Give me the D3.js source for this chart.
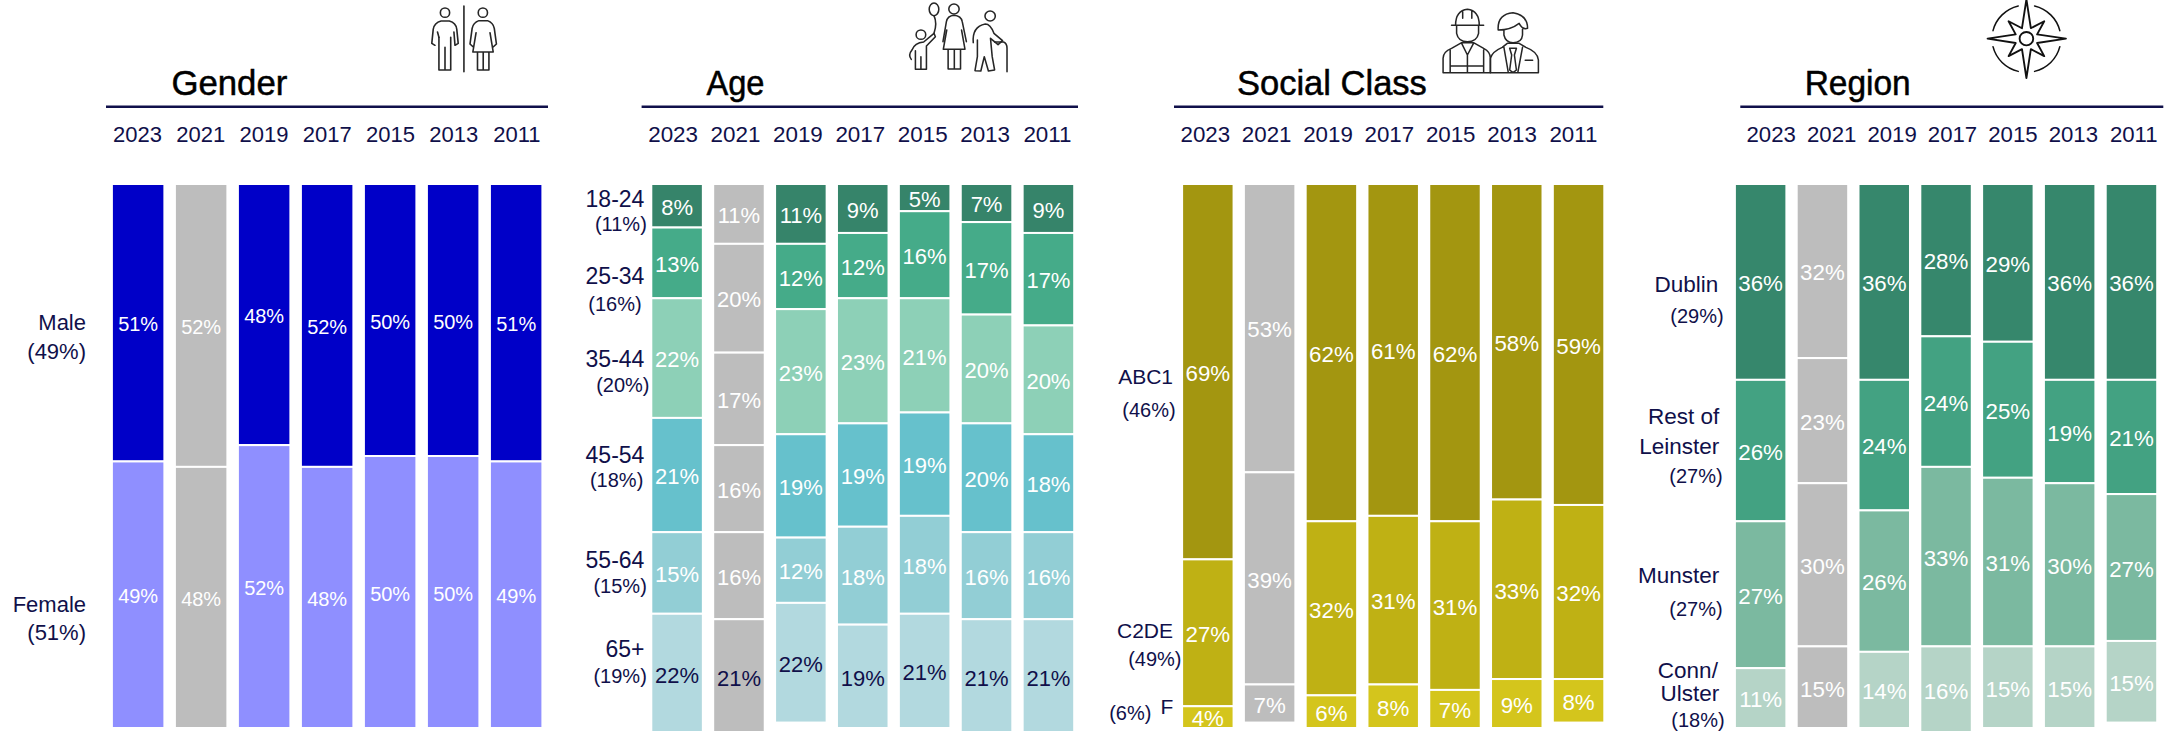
<!DOCTYPE html>
<html>
<head>
<meta charset="utf-8">
<script src="https://cdn.jsdelivr.net/npm/d3@7"></script>
<style>
  body { margin: 0; background: #fff; }
  text { font-family: "Liberation Sans", Arial, sans-serif; }
  .title { fill: #000; stroke: #000; stroke-width: 0.5; }
  .tick text, .catLabel { fill: #10104a; }
  .icon { fill: none; stroke: #262626; stroke-linejoin: round; stroke-linecap: round; }
</style>
</head>
<body>
<div id="chart"></div>
<script>
"use strict";

const years = ["2023", "2021", "2019", "2017", "2015", "2013", "2011"];

const genderCategories = ["Male", "Female"];
const genderShare = [49, 51];
const genderValues = [
    [51, 52, 48, 52, 50, 50, 51],
    [49, 48, 52, 48, 50, 50, 49]
];

const ageCategories = ["18-24", "25-34", "35-44", "45-54", "55-64", "65+"];
const ageShare = [11, 16, 20, 18, 15, 19];
const ageValues = [
    [8, 11, 11, 9, 5, 7, 9],
    [13, 20, 12, 12, 16, 17, 17],
    [22, 17, 23, 23, 21, 20, 20],
    [21, 16, 19, 19, 19, 20, 18],
    [15, 16, 12, 18, 18, 16, 16],
    [22, 21, 22, 19, 21, 21, 21]
];

const classCategories = ["ABC1", "C2DE", "F"];
const classShare = [46, 49, 6];
const classValues = [
    [69, 53, 62, 61, 62, 58, 59],
    [27, 39, 32, 31, 31, 33, 32],
    [4, 7, 6, 8, 7, 9, 8]
];

const regionCategories = ["Dublin", "Rest of", "Munster", "Conn/"];
const regionShare = [29, 27, 27, 18];
const regionValues = [
    [36, 32, 36, 28, 29, 36, 36],
    [26, 23, 24, 24, 25, 19, 21],
    [27, 30, 26, 33, 31, 30, 27],
    [11, 15, 14, 16, 15, 15, 15]
];

//column drawn in grey in every panel
const greyYear = "2021";

//layout of each panel: the labels were placed by hand in the original,
//so every category keeps [right edge, baseline] for its name and its share
const panels = [
    { title: "Gender", titleX: 171.4, titleWidth: 116, categories: genderCategories, share: genderShare, values: genderValues,
      colors: ["#0000c8", "#8f8fff"], darkLast: false,
      barRange: [111.9, 542.4], tickRange: [137, 516.4], rule: [106, 548],
      tickSize: 22, valueSize: 20, labelSize: 22, shareSize: 22,
      labelPos: [[[86, 330], [86, 359]],
                 [[86, 612], [86, 640]]] },
    { title: "Age", titleX: 706.4, titleWidth: 58, categories: ageCategories, share: ageShare, values: ageValues,
      colors: ["#36846a", "#45ab89", "#8dd0b7", "#66c1cc", "#92ced5", "#b2d9df"], darkLast: true,
      barRange: [651.3, 1074.2], tickRange: [672.6, 1047], rule: [641.6, 1078],
      tickSize: 22.4, valueSize: 22, labelSize: 23, shareSize: 20,
      labelPos: [[[644.4, 206.7], [646.8, 231]],
                 [[644.4, 284], [641.6, 311]],
                 [[644.4, 366.7], [649.5, 391.7]],
                 [[644.4, 463.3], [643.3, 486.7]],
                 [[644.4, 568], [646.8, 593.3]],
                 [[644.4, 657], [646.8, 683]]] },
    { title: "Social Class", titleX: 1236.9, titleWidth: 190, categories: classCategories, share: classShare, values: classValues,
      colors: ["#a39610", "#bfb114", "#d4c51c"], darkLast: false,
      barRange: [1182.1, 1604.3], tickRange: [1204.8, 1572.9], rule: [1174, 1603.3],
      tickSize: 22.3, valueSize: 22.3, labelSize: 21, shareSize: 20,
      labelPos: [[[1173, 384.3], [1175.7, 417.3]],
                 [[1173, 637.7], [1181.5, 666]],
                 [[1173.3, 714.3], [1151.4, 720]]] },
    { title: "Region", titleX: 1804.7, titleWidth: 106, categories: regionCategories, share: regionShare, values: regionValues,
      colors: ["#36876c", "#43a282", "#7bb9a0", "#b5d4c7"], darkLast: false,
      barRange: [1734.9, 2157.2], tickRange: [1770.7, 2133.3], rule: [1740.3, 2163.3],
      tickSize: 22.2, valueSize: 22.3, labelSize: 22.5, shareSize: 20,
      labelPos: [[[1718.2, 291.7], [1723.7, 322.7]],
                 [[1719.2, 424.3], [1722.6, 483.3]],
                 [[1719.2, 583.3], [1722.6, 615.7]],
                 [[1717.9, 678.3], [1724.7, 726.7]]] }
];

//second line of the two labels that wrap: [category, text, right edge, baseline]
const wrappedLabels = [
    ["Rest of", "Leinster", 1719.2, 454],
    ["Conn/", "Ulster", 1719.2, 701]
];

const svg = d3.select("#chart").append("svg")
    .attr("width", 2164)
    .attr("height", 731)
    .style("display", "block");

//one percent is the same height in all the panels
const y = d3.scaleLinear().domain([0, 100]).range([184, 728]);

panels.forEach(p => drawPanel(svg, p));
drawGenderIcon(iconGroup(svg, 0, 1680 / 1568));
drawAgeIcon(iconGroup(svg, 560, 1620 / 1568));
drawClassIcon(iconGroup(svg, 1100, 1590 / 1568));
drawCompassIcon(iconGroup(svg, 1630, 1602 / 1568));

/**
 * Draws a whole panel: title, rule, year axis, stacked bars and category labels.
 *
 * @param svg    The SVG element in which the panel has to be drawn.
 * @param p      The panel settings and data.
 */
function drawPanel(svg, p) {
    const g = svg.append("g");

    g.append("text")
     .classed("title", true)
     .attr("x", p.titleX)
     .attr("y", 95)
     .attr("font-size", 35)
     .attr("textLength", p.titleWidth)
     .attr("lengthAdjust", "spacingAndGlyphs")
     .text(p.title);

    g.append("line")
     .attr("x1", p.rule[0])
     .attr("x2", p.rule[1])
     .attr("y1", 106.7)
     .attr("y2", 106.7)
     .attr("stroke", "#10104a")
     .attr("stroke-width", 2.4);

    //year labels do not sit exactly over the bars in the original
    const tickScale = d3.scalePoint().domain(years).range(p.tickRange);
    g.append("g")
     .attr("transform", "translate(0,142)")
     .call(d3.axisTop(tickScale).tickSize(0).tickPadding(0))
     .call(a => a.select(".domain").remove())
     .selectAll("text")
     .attr("font-size", p.tickSize);

    const x = d3.scaleBand().domain(years).range(p.barRange).paddingInner(0.167);

    const rows = years.map((year, i) => {
        const row = { year: year };
        p.categories.forEach((c, k) => { row[c] = p.values[k][i]; });
        return row;
    });
    const series = d3.stack().keys(p.categories)(rows);

    const layers = g.selectAll("g.layer")
        .data(series)
        .enter()
        .append("g")
        .classed("layer", true);

    layers.selectAll("rect")
        .data(s => s.map(d => ({ year: d.data.year, y0: d[0], y1: d[1], index: s.index })))
        .enter()
        .append("rect")
        .attr("x", d => x(d.year))
        .attr("y", d => y(d.y0))
        .attr("width", x.bandwidth())
        .attr("height", d => y(d.y1) - y(d.y0))
        .attr("fill", d => d.year === greyYear ? "#bdbdbd" : p.colors[d.index])
        .attr("stroke", "#fff")
        .attr("stroke-width", 2);

    layers.selectAll("text")
        .data(s => s.map(d => ({ year: d.data.year, y0: d[0], y1: d[1], index: s.index })))
        .enter()
        .append("text")
        .attr("x", d => x(d.year) + x.bandwidth() / 2)
        .attr("y", d => (y(d.y0) + y(d.y1)) / 2 + 1.5)
        .attr("dy", "0.35em")
        .attr("text-anchor", "middle")
        .attr("font-size", p.valueSize)
        .attr("fill", d => (p.darkLast && d.index === p.categories.length - 1) ? "#10104a" : "#fff")
        .text(d => `${d.y1 - d.y0}%`);

    //category names and their population share in brackets
    const labelData = p.categories.flatMap((c, k) => [
        { text: c, pos: p.labelPos[k][0], size: p.labelSize },
        { text: `(${p.share[k]}%)`, pos: p.labelPos[k][1], size: p.shareSize }
    ]);
    wrappedLabels.filter(w => p.categories.includes(w[0]))
                 .forEach(w => labelData.push({ text: w[1], pos: [w[2], w[3]], size: p.labelSize }));

    g.selectAll("text.catLabel")
     .data(labelData)
     .enter()
     .append("text")
     .classed("catLabel", true)
     .attr("x", d => d.pos[0])
     .attr("y", d => d.pos[1])
     .attr("text-anchor", "end")
     .attr("font-size", d => d.size)
     .text(d => d.text);
}

/**
 * Creates the group for an icon. The icons are traced in the coordinates
 * of the crop they were read from, hence the scale.
 */
function iconGroup(svg, cropX, stretch) {
    return svg.append("g")
        .classed("icon", true)
        .attr("stroke-width", 4.5)
        .attr("transform", `translate(${cropX},0) scale(${stretch / 3},${1 / 3})`);
}

function drawGenderIcon(g) {
    g.append("ellipse").attr("cx", 1246).attr("cy", 38).attr("rx", 13).attr("ry", 14);
    g.append("path").attr("d", "M1229,112V210H1262V112M1246,142V210"
        + "M1218,136L1209,130L1213,88Q1216,68 1235,63H1258Q1277,68 1279,88L1283,130L1274,136L1271,96");
    g.append("path").attr("d", "M1229,112L1225,96");
    g.append("line").attr("x1", 1299).attr("x2", 1299).attr("y1", 18).attr("y2", 215);
    g.append("ellipse").attr("cx", 1352).attr("cy", 38).attr("rx", 13).attr("ry", 14);
    g.append("path").attr("d", "M1326,142L1316,132L1322,85Q1325,68 1341,62H1365Q1381,68 1384,85L1390,132L1380,142"
        + "M1333,98L1324,156H1381L1372,98M1337,156V210H1369V156M1353,156V210");
}

function drawAgeIcon(g) {
    g.append("ellipse").attr("cx", 1086).attr("cy", 28).attr("rx", 14).attr("ry", 19);
    g.append("path").attr("d", "M1086,47Q1096,70 1086,100");
    g.append("circle").attr("cx", 1048).attr("cy", 104).attr("r", 14);
    g.append("path").attr("d", "M1020,178Q1010,165 1022,150Q1030,128 1056,126L1086,100L1090,110L1064,138V208H1032V152M1048,170V208");
    g.append("circle").attr("cx", 1144).attr("cy", 27).attr("r", 15);
    g.append("path").attr("d", "M1112,125L1122,65Q1125,48 1144,46Q1165,48 1168,65L1180,125M1123,90L1113,148H1176L1166,90"
        + "M1127,148V207H1163V148M1145,148V207");
    g.append("circle").attr("cx", 1249).attr("cy", 48).attr("r", 15);
    g.append("path").attr("d", "M1200,128Q1196,80 1235,72Q1250,72 1260,100L1285,122L1272,134L1250,115L1255,170L1262,210L1244,213"
        + "L1232,170L1222,213L1205,212L1212,170V120");
    g.append("path").attr("d", "M1262,126H1288Q1298,130 1298,145V215");
}

function drawClassIcon(g) {
    g.append("path").attr("d", "M1040,76H1135M1052,76Q1052,32 1087,28Q1122,32 1122,76M1073,32V55M1100,32V55"
        + "M1055,76V100Q1060,125 1087,125Q1115,125 1120,100V76");
    g.append("path").attr("d", "M1015,218V175Q1015,155 1040,145L1070,128H1105L1135,145Q1155,155 1155,175V218Z"
        + "M1036,150V218M1135,150V218M1036,198H1135M1070,130L1087,165L1105,130M1087,165V218");
    g.append("path").attr("d", "M1178,90Q1175,42 1222,38Q1265,45 1265,85Q1250,90 1240,70Q1215,90 1178,90"
        + "M1195,92V105Q1200,128 1222,128Q1248,128 1250,105V88");
    g.append("path").attr("d", "M1155,218V175Q1160,155 1190,142L1205,130H1240L1260,142Q1295,155 1297,180V218Z"
        + "M1212,145H1232L1226,165L1232,210L1222,218L1212,210L1218,165ZM1195,142L1208,218M1250,142L1236,218M1258,181H1280");
}

function drawCompassIcon(g) {
    const center = g.append("g").attr("transform", "translate(1164,116)").attr("stroke", "#111");
    const arc = d3.arc().innerRadius(101).outerRadius(101);
    //ring is broken where the four long points cross it
    [0, 1, 2, 3].forEach(q => {
        center.append("path").attr("d", arc({
            startAngle: q * Math.PI / 2 + 0.24,
            endAngle: q * Math.PI / 2 + Math.PI / 2 - 0.24
        }));
    });
    //star: long points, short points and the valleys between them
    const radii = [118, 34, 74, 34, 116, 34, 74, 34, 118, 34, 74, 34, 114, 34, 74, 34];
    const star = d3.lineRadial()
        .angle((_, i) => i * Math.PI / 8)
        .radius(d => d)
        .curve(d3.curveLinearClosed);
    center.append("path").attr("d", star(radii)).attr("stroke-width", 5.5);
    center.append("circle").attr("r", 20).attr("stroke-width", 5.5);
}
</script>
</body>
</html>
